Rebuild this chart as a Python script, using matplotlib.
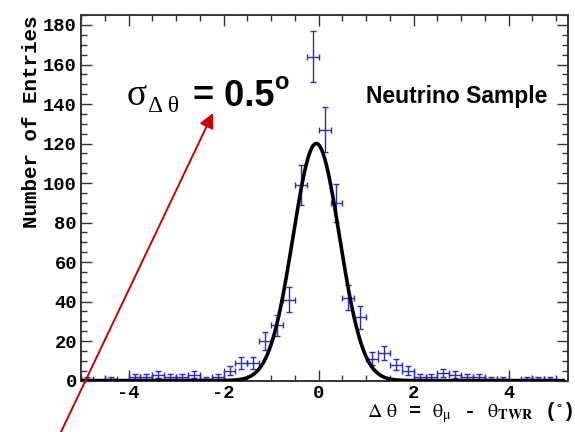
import numpy as np
import matplotlib
matplotlib.use("Agg")
import matplotlib.pyplot as plt
from matplotlib.ticker import MultipleLocator

plt.rcParams["axes.unicode_minus"] = False
plt.rcParams["mathtext.fontset"] = "stix"

# binned delta-theta distribution (bin width 0.25 deg)
BIN_W = 0.25
centers = [-4.875, -4.375, -3.875, -3.625, -3.375, -3.125, -2.875, -2.625,
           -2.375, -2.125, -1.875, -1.625, -1.375, -1.125, -0.875, -0.625,
           -0.375, -0.125, 0.125, 0.375, 0.625, 0.875, 1.125, 1.375, 1.625,
           1.875, 2.125, 2.375, 2.625, 2.875, 3.125, 3.375, 3.625, 3.875,
           4.375, 4.625, 4.875]
counts = [1, 1, 2, 2, 3, 2, 2, 3,
          1, 2, 5, 9, 9, 20, 28, 41,
          99, 164, 127, 90, 42, 32, 11, 14, 8,
          5, 2, 2, 4, 3, 2, 2, 1, 1,
          1, 1, 1]

# gaussian fit parameters
FIT_AMP = 120.0
FIT_MEAN = -0.05
FIT_SIGMA = 0.49

XTICKS = [-4, -2, 0, 2, 4]
YTICKS = list(range(0, 181, 20))

MONO = "Liberation Mono"
SANS = "Liberation Sans"
SERIF = "Liberation Serif"

x = np.array(centers)
n = np.array(counts, dtype=float)

fig = plt.figure(figsize=(5.75, 4.32), dpi=100)
ax = fig.add_axes([0.141, 0.119, 0.847, 0.846])

ax.errorbar(x, n, xerr=BIN_W / 2, yerr=np.sqrt(n), fmt="none",
            ecolor="#2a2ac8", elinewidth=1.0, capsize=2.5, capthick=1.0, zorder=2)

xf = np.linspace(-5, 5.15, 800)
ax.plot(xf, FIT_AMP * np.exp(-0.5 * ((xf - FIT_MEAN) / FIT_SIGMA) ** 2),
        color="black", lw=2.6, zorder=3)

ax.set_xlim(-5, 5.25)
ax.set_ylim(0, 185)
ax.set_xticks(XTICKS)
ax.set_yticks(YTICKS)
ax.xaxis.set_minor_locator(MultipleLocator(0.5))
ax.yaxis.set_minor_locator(MultipleLocator(5))
ax.tick_params(which="both", direction="in", top=True, right=True,
               color="#333333", width=1.0)
ax.tick_params(which="major", length=8, pad=3)
ax.tick_params(which="minor", length=4)
for lab in ax.get_xticklabels() + ax.get_yticklabels():
    lab.set_fontfamily(MONO)
    lab.set_fontweight("bold")
    lab.set_fontsize(13.5)
for sp in ax.spines.values():
    sp.set_color("#333333")
    sp.set_linewidth(1.4)

fig.text(32 / 575, 1 - 15 / 432, "Number of Entries", rotation=90,
         ha="center", va="top", family=MONO, weight="bold", fontsize=15)
fig.text(573 / 575, 1 - 413 / 432,
         r"$\mathrm{\Delta\ \theta}$ = $\mathrm{\theta_{\mu}}$ - "
         r"$\mathrm{\theta}_{\mathbf{TWR}}$ ($^{\circ}$)",
         ha="right", va="center", family=MONO, weight="bold", fontsize=14.5)

fig.text(127 / 575, 1 - 105 / 432, "σ", ha="left", va="baseline",
         family=SERIF, fontsize=27)
fig.text(148 / 575, 1 - 112 / 432, "Δ θ", ha="left", va="baseline",
         family=SERIF, fontsize=17)
fig.text(193 / 575, 1 - 106 / 432, "= 0.5", ha="left", va="baseline",
         family=SANS, weight="bold", fontsize=26)
fig.text(274 / 575, 1 - 89 / 432, "o", ha="left", va="baseline",
         family=SANS, weight="bold", fontsize=17)
fig.text(366 / 575, 1 - 97 / 432, "Neutrino Sample", ha="left", va="center",
         family=SANS, weight="bold", fontsize=16.5)

ax.annotate("", xy=(213, 432 - 113), xycoords="figure pixels",
            xytext=(61, 0), textcoords="figure pixels",
            arrowprops=dict(arrowstyle="-|>", color="#cc0000", lw=1.4,
                            mutation_scale=22, shrinkA=0, shrinkB=0),
            annotation_clip=False)

fig.savefig("out.png", dpi=100)
